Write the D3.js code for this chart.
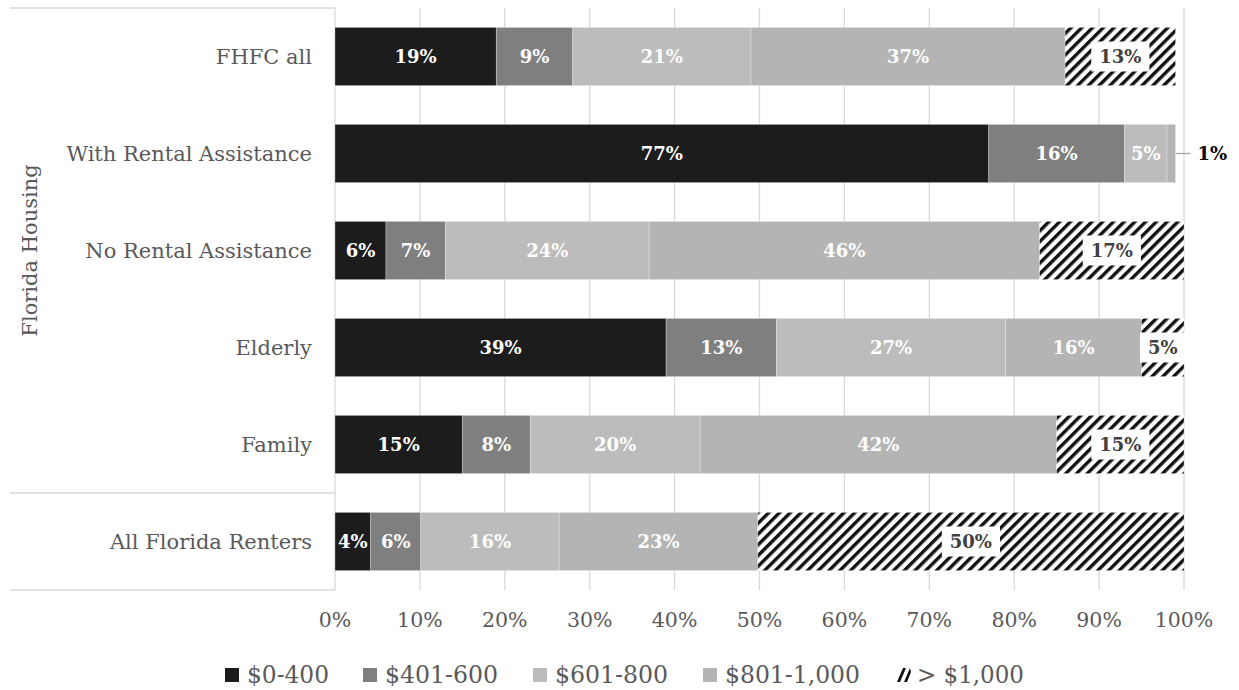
<!DOCTYPE html>
<html><head><meta charset="utf-8">
<script src="https://cdn.jsdelivr.net/npm/d3@7"></script>
<style>
body{margin:0;background:#fff;}
svg{display:block;font-family:"DejaVu Serif",serif;}
</style></head>
<body><svg id="c" width="1239" height="690"></svg>
<script>
const categories = ["FHFC all","With Rental Assistance","No Rental Assistance","Elderly","Family","All Florida Renters"];
const seriesNames = ["$0-400","$401-600","$601-800","$801-1,000","> $1,000"];
const s0_400   = [19, 77, 6, 39, 15, 4.2];
const s401_600 = [9, 16, 7, 13, 8, 5.9];
const s601_800 = [21, 5, 24, 27, 20, 16.3];
const s801_1000= [37, 1, 46, 16, 42, 23.4];
const s1000p   = [13, 0, 17, 5, 15, 50.2];
const tickValues = [0,10,20,30,40,50,60,70,80,90,100];
const groupLabel = "Florida Housing";

const seriesValues = [s0_400, s401_600, s601_800, s801_1000, s1000p];
const colors = ["#1c1c1c","#7f7f7f","#bcbcbc","#b4b4b4","url(#hatch)"];

const svg = d3.select("#c");
const defs = svg.append("defs");
const pat = defs.append("pattern").attr("id","hatch").attr("patternUnits","userSpaceOnUse")
  .attr("width",7.6).attr("height",7.6).attr("patternTransform","rotate(45)");
pat.append("rect").attr("width",7.6).attr("height",7.6).attr("fill","#fff");
pat.append("rect").attr("width",3.4).attr("height",7.6).attr("fill","#111");

const x = d3.scaleLinear().domain([0,100]).range([335,1184]);
const y = d3.scaleBand().domain(categories).range([8,590]).paddingInner(0.4).paddingOuter(0.2);

// gridlines
svg.append("g").selectAll("line").data(tickValues).join("line")
  .attr("x1",d=>x(d)).attr("x2",d=>x(d)).attr("y1",8).attr("y2",590)
  .attr("stroke","#d9d9d9").attr("stroke-width",1.3);

// category bracket lines
const sep = [8, (y(categories[4])+y.bandwidth()+y(categories[5]))/2, 590];
svg.append("g").selectAll("line").data(sep).join("line")
  .attr("x1",10).attr("x2",335).attr("y1",d=>d).attr("y2",d=>d)
  .attr("stroke","#d9d9d9").attr("stroke-width",1.3);

// stacked data
const rows = categories.map((c,i)=>{
  let acc=0;
  return seriesValues.map((arr,s)=>{const v=arr[i];const seg={cat:c,s,v,x0:acc,x1:acc+v};acc+=v;return seg;});
});
const segs = rows.flat();

svg.append("g").selectAll("rect").data(segs.filter(d=>d.v>0)).join("rect")
  .attr("x",d=>x(d.x0)).attr("width",d=>x(d.x1)-x(d.x0))
  .attr("y",d=>y(d.cat)).attr("height",y.bandwidth())
  .attr("fill",d=>colors[d.s]).attr("stroke","#fff").attr("stroke-opacity",0.35).attr("stroke-width",0.8);

// labels
const fmt = v=>Math.round(v)+"%";
const lg = svg.append("g").attr("font-weight","bold").attr("font-size",18);
segs.filter(d=>d.v>0).forEach(d=>{
  const cy = y(d.cat)+y.bandwidth()/2;
  if(d.v<2){
    lg.append("line").attr("x1",x(d.x1)).attr("x2",x(d.x1)+15).attr("y1",cy).attr("y2",cy).attr("stroke","#a6a6a6").attr("stroke-width",1.3);
    lg.append("text").attr("x",x(d.x1)+22).attr("y",cy).attr("dy","0.35em").attr("fill","#000").text(fmt(d.v));
    return;
  }
  const cx = (x(d.x0)+x(d.x1))/2;
  const t = lg.append("text").attr("x",cx).attr("y",cy).attr("dy","0.35em").attr("text-anchor","middle")
    .attr("fill", d.s===4?"#404040":"#fff").text(fmt(d.v));
  if(d.s===4){
    const bb = t.node().getBBox();
    lg.insert("rect","text:last-child").attr("x",bb.x-8).attr("y",cy-15).attr("width",bb.width+16).attr("height",30).attr("fill","#fff");
  }
});

// category labels
svg.append("g").selectAll("text").data(categories).join("text")
  .attr("x",312).attr("y",d=>y(d)+y.bandwidth()/2).attr("dy","0.35em").attr("text-anchor","end")
  .attr("font-size",21).attr("fill","#595959").text(d=>d);

// group label
const gy = (sep[0]+sep[1])/2;
svg.append("text").attr("transform",`translate(37,${gy}) rotate(-90)`).attr("text-anchor","middle")
  .attr("font-size",21).attr("fill","#595959").text(groupLabel);

// x ticks
svg.append("g").selectAll("text").data(tickValues).join("text")
  .attr("x",d=>x(d)).attr("y",620).attr("dy","0.35em").attr("text-anchor","middle")
  .attr("font-size",20.5).attr("fill","#595959").text(d=>d+"%");

// legend
const leg = svg.append("g").attr("font-size",24).attr("fill","#595959");
const legendX = [225, 363, 533, 703, 895];
const legendW = [82, 113, 113, 135, 107];
seriesNames.forEach((n,i)=>{
  const gx = legendX[i];
  if(i<4) leg.append("rect").attr("x",gx).attr("y",668).attr("width",14).attr("height",14).attr("fill",colors[i]);
  else {
    leg.append("path").attr("d",`M${gx+2},682 L${gx+8},668 L${gx+11},668 L${gx+5},682Z M${gx+9},682 L${gx+15},668 L${gx+16},672 L${gx+12},682Z`).attr("fill","#111");
  }
  leg.append("text").attr("x",gx+22).attr("y",675).attr("dy","0.35em")
    .attr("font-family","'DejaVu Serif Condensed','DejaVu Serif',serif")
    .attr("textLength",legendW[i]).attr("lengthAdjust","spacingAndGlyphs")
    .attr("fill","#595959").text(n);
});
</script></body></html>
